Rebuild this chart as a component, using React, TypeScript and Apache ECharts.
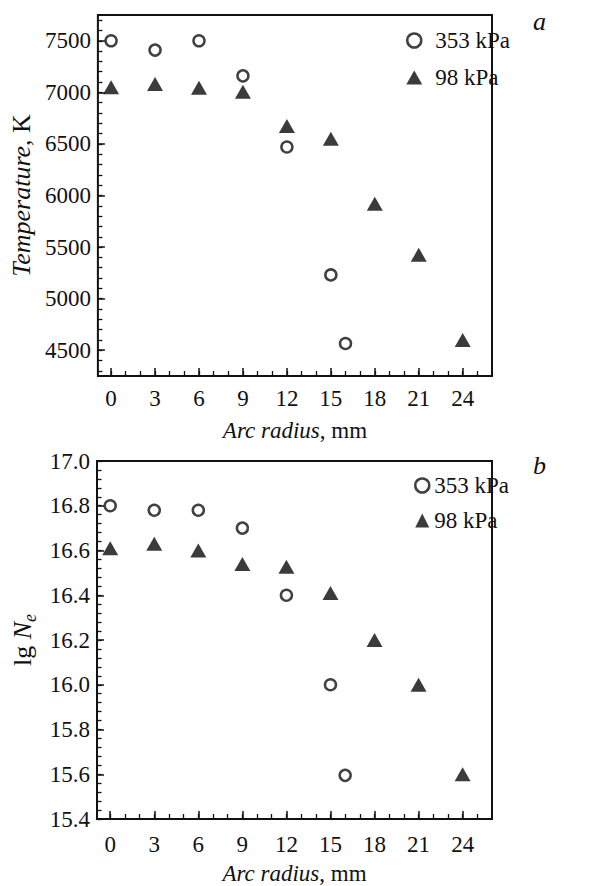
import React, { useEffect, useRef } from "react";
import * as echarts from "echarts";

const radius353 = [0, 3, 6, 9, 12, 15, 16];
const temp353 = [7500, 7410, 7500, 7160, 6470, 5230, 4565];
const radius98 = [0, 3, 6, 9, 12, 15, 18, 21, 24];
const temp98 = [7050, 7080, 7045, 7005, 6675, 6550, 5920, 5425, 4600];
const lgNe353 = [16.8, 16.78, 16.78, 16.7, 16.4, 16.0, 15.595];
const lgNe98 = [16.61, 16.63, 16.6, 16.54, 16.527, 16.41, 16.2, 16.0, 15.6];

const xMajor = [0, 3, 6, 9, 12, 15, 18, 21, 24];
const xMinor = Array.from({ length: 26 }, (_, i) => i);
const tempMajor = [4500, 5000, 5500, 6000, 6500, 7000, 7500];
const tempMinor = Array.from({ length: 35 }, (_, i) => 4300 + i * 100);
const neMajor = [15.4, 15.6, 15.8, 16.0, 16.2, 16.4, 16.6, 16.8, 17.0];
const neMinor = Array.from({ length: 41 }, (_, i) => +(15.4 + i * 0.04).toFixed(2));

const FONT = "Liberation Serif";
const INK = "#111111";

export default function App() {
  const ref = useRef<HTMLDivElement>(null);
  useEffect(() => {
    if (!ref.current) return;
    const chart = echarts.init(ref.current, undefined, { renderer: "svg" });

    const grids = [
      { left: 97, top: 15, width: 395, height: 361 },
      { left: 97, top: 461, width: 395, height: 362 },
    ];
    const labelMargins = [11, 14];
    const nameGaps = [43, 43];

    const xAxes: any[] = [];
    const yAxes: any[] = [];
    for (let g = 0; g < 2; g++) {
      xAxes.push({
        type: "value",
        gridIndex: g,
        min: -0.9,
        max: 26,
        position: "bottom",
        axisLine: { show: false, onZero: false },
        splitLine: { show: false },
        axisTick: {
          show: true,
          inside: true,
          length: 8,
          customValues: xMajor,
          lineStyle: { color: INK, width: 1.5 },
        },
        axisLabel: {
          customValues: xMajor,
          margin: labelMargins[g],
          fontFamily: FONT,
          fontSize: 23,
          color: INK,
        },
        name: "{i|Arc radius}{r|, mm}",
        nameLocation: "middle",
        nameGap: nameGaps[g],
        nameTextStyle: {
          rich: {
            i: { fontFamily: FONT, fontSize: 23, fontStyle: "italic", color: INK },
            r: { fontFamily: FONT, fontSize: 23, color: INK },
          },
        },
      });
      xAxes.push({
        type: "value",
        gridIndex: g,
        min: -0.9,
        max: 26,
        position: "bottom",
        axisLine: { show: false, onZero: false },
        splitLine: { show: false },
        axisTick: {
          show: true,
          inside: true,
          length: 5,
          customValues: xMinor,
          lineStyle: { color: INK, width: 1.3 },
        },
        axisLabel: { show: false },
      });
    }

    const yMain = (g: number, min: number, max: number, major: number[], fmt: (v: number) => string, name: string, gap: number, rich: any) => ({
      type: "value",
      gridIndex: g,
      min,
      max,
      position: "left",
      axisLine: { show: false, onZero: false },
      splitLine: { show: false },
      axisTick: {
        show: true,
        inside: true,
        length: 7,
        customValues: major,
        lineStyle: { color: INK, width: 1.5 },
      },
      axisLabel: {
        customValues: major,
        margin: 7,
        fontFamily: FONT,
        fontSize: 23,
        color: INK,
        formatter: fmt,
      },
      name,
      nameLocation: "middle",
      nameRotate: 90,
      nameGap: gap,
      nameTextStyle: { rich },
    });
    const yMinor = (g: number, min: number, max: number, minor: number[]) => ({
      type: "value",
      gridIndex: g,
      min,
      max,
      position: "left",
      axisLine: { show: false, onZero: false },
      splitLine: { show: false },
      axisTick: {
        show: true,
        inside: true,
        length: 4.5,
        customValues: minor,
        lineStyle: { color: INK, width: 1.3 },
      },
      axisLabel: { show: false },
    });

    yAxes.push(
      yMain(0, 4250, 7750, tempMajor, (v) => String(v), "{i|Temperature}{r|, K}", 50, {
        i: { fontFamily: FONT, fontSize: 26, fontStyle: "italic", color: INK },
        r: { fontFamily: FONT, fontSize: 26, color: INK },
      })
    );
    yAxes.push(yMinor(0, 4250, 7750, tempMinor));
    yAxes.push(
      yMain(1, 15.4, 17.0, neMajor, (v) => v.toFixed(1), "{r|lg }{i|N}{s|e}", 57, {
        r: { fontFamily: FONT, fontSize: 26, color: INK, lineHeight: 32 },
        i: { fontFamily: FONT, fontSize: 26, fontStyle: "italic", color: INK, lineHeight: 32 },
        s: { fontFamily: FONT, fontSize: 18, fontStyle: "italic", color: INK, lineHeight: 32, verticalAlign: "bottom", padding: [12, 0, 0, 0] },
      })
    );
    yAxes.push(yMinor(1, 15.4, 17.0, neMinor));

    const circleStyle = { color: "#ffffff", borderColor: INK, borderWidth: 2.5 };
    const triStyle = { color: "#0a0a0a" };

    const zip = (xs: number[], ys: number[]) => xs.map((x, i) => [x, ys[i]]);

    const series: any[] = [
      { name: "353 kPa", type: "scatter", xAxisIndex: 0, yAxisIndex: 0, symbol: "circle", symbolSize: 11, itemStyle: circleStyle, data: zip(radius353, temp353), z: 3 },
      { name: "98 kPa", type: "scatter", xAxisIndex: 0, yAxisIndex: 0, symbol: "triangle", symbolSize: [16, 14], itemStyle: triStyle, data: zip(radius98, temp98), z: 2 },
      { name: "353 kPa", type: "scatter", xAxisIndex: 2, yAxisIndex: 2, symbol: "circle", symbolSize: 11, itemStyle: circleStyle, data: zip(radius353, lgNe353), z: 3 },
      { name: "98 kPa", type: "scatter", xAxisIndex: 2, yAxisIndex: 2, symbol: "triangle", symbolSize: [16, 14], itemStyle: triStyle, data: zip(radius98, lgNe98), z: 2 },
    ];

    const legendData = [
      { name: "353 kPa", icon: "circle", itemStyle: circleStyle },
      { name: "98 kPa", icon: "triangle", itemStyle: triStyle },
    ];
    const legendText = { fontFamily: FONT, fontSize: 23, color: INK, lineHeight: 25 };

    chart.setOption({
      animation: false,
      grid: grids.map((g) => ({ ...g, show: true, borderColor: INK, borderWidth: 2, backgroundColor: "transparent" })),
      xAxis: xAxes,
      yAxis: yAxes,
      legend: [
        {
          orient: "vertical",
          itemWidth: 16,
          itemHeight: 14,
          selectedMode: false,
          left: 401,
          top: 23,
          itemGap: 12,
          textStyle: { ...legendText, padding: [0, 0, 0, 8] },
          data: legendData,
        },
        {
          orient: "vertical",
          itemWidth: 14,
          itemHeight: 14,
          selectedMode: false,
          left: 409,
          top: 468,
          itemGap: 10,
          textStyle: legendText,
          data: legendData,
        },
      ],
      graphic: [
        { type: "text", left: 533, top: 8, style: { text: "a", fontFamily: FONT, fontSize: 26, fontStyle: "italic", fill: INK } },
        { type: "text", left: 533, top: 452, style: { text: "b", fontFamily: FONT, fontSize: 26, fontStyle: "italic", fill: INK } },
      ],
      series,
    });
    return () => chart.dispose();
  }, []);
  return <div ref={ref} style={{ position: "absolute", left: 0, top: 0, width: 611, height: 886 }} />;
}
